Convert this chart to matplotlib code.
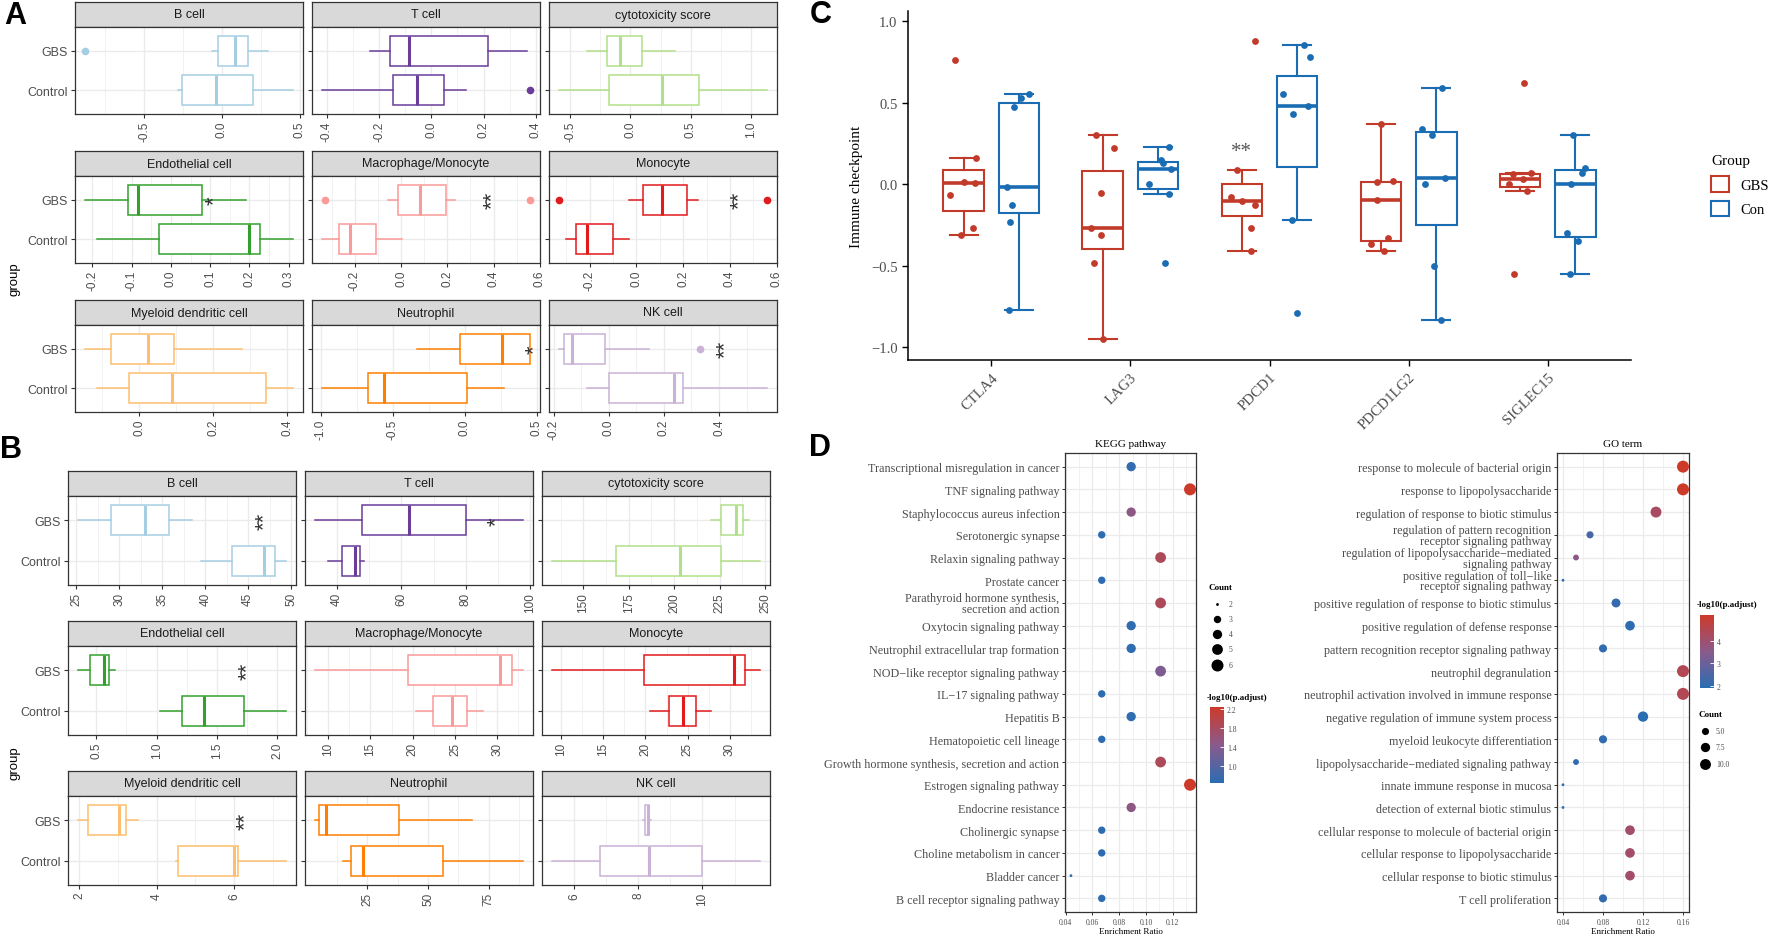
import numpy as np
import matplotlib
matplotlib.use("Agg")
import matplotlib.pyplot as plt
from matplotlib import cbook
from matplotlib.colors import LinearSegmentedColormap, Normalize
from matplotlib.cm import ScalarMappable
from matplotlib.patches import Patch

SANS = ["Liberation Sans", "DejaVu Sans"]
SERIF = ["Liberation Serif", "DejaVu Serif"]
plt.rcParams["font.family"] = SANS

# ---------------- panel A / B data ----------------
cells = ["B cell", "T cell", "cytotoxicity score", "Endothelial cell", "Macrophage/Monocyte",
         "Monocyte", "Myeloid dendritic cell", "Neutrophil", "NK cell"]
cell_colors = ["#A6CEE3", "#6A3D9A", "#B2DF8A", "#33A02C", "#FB9A99",
               "#E31A1C", "#FDBF6F", "#FF7F00", "#CAB2D6"]
groups = ["Control", "GBS"]

# five-number summaries: lower whisker, Q1, median, Q3, upper whisker
a_gbs = [
    [-0.066, -0.027, 0.082, 0.166, 0.294],
    [-0.236, -0.160, -0.085, 0.216, 0.367],
    [-0.362, -0.197, -0.088, 0.095, 0.370],
    [-0.218, -0.109, -0.085, 0.080, 0.191],
    [-0.055, -0.012, 0.081, 0.196, 0.234],
    [-0.030, 0.030, 0.110, 0.215, 0.265],
    [-0.145, -0.076, 0.025, 0.095, 0.278],
    [-0.334, -0.037, 0.260, 0.450, 0.450],
    [-0.180, -0.163, -0.135, -0.016, 0.146],
]
a_gbs_out = [[-0.878], [], [], [], [-0.33, 0.556], [-0.33, 0.557], [], [], [0.33]]
a_ctrl = [
    [-0.281, -0.254, -0.038, 0.199, 0.454],
    [-0.417, -0.147, -0.055, 0.050, 0.131],
    [-0.590, -0.180, 0.260, 0.570, 1.130],
    [-0.189, -0.031, 0.200, 0.228, 0.310],
    [-0.341, -0.271, -0.222, -0.107, 0.003],
    [-0.300, -0.260, -0.210, -0.100, -0.030],
    [-0.114, -0.027, 0.089, 0.343, 0.414],
    [-0.990, -0.676, -0.562, 0.012, 0.272],
    [-0.078, 0.000, 0.237, 0.269, 0.573],
]
a_ctrl_out = [[], [0.376], [], [], [], [], [], [], []]
a_ticks = [[-0.5, 0, 0.5], [-0.4, -0.2, 0, 0.2, 0.4], [-0.5, 0, 0.5, 1.0],
           [-0.2, -0.1, 0, 0.1, 0.2, 0.3], [-0.2, 0, 0.2, 0.4, 0.6], [-0.2, 0, 0.2, 0.4, 0.6],
           [0, 0.2, 0.4], [-1.0, -0.5, 0, 0.5], [-0.2, 0, 0.2, 0.4]]
a_sig = ["", "", "", "*", "**", "**", "", "*", "**"]
a_sig_x = [None, None, None, 0.11, 0.396, 0.44, None, 0.483, 0.424]

b_gbs = [
    [25.24, 29.03, 33.03, 35.78, 38.42],
    [33.4, 47.7, 62.3, 80.0, 97.6],
    [220, 226, 234, 238, 241],
    [0.352, 0.452, 0.5625, 0.608, 0.656],
    [8.5, 19.5, 30.3, 31.7, 33.0],
    [9.0, 19.8, 30.5, 31.8, 33.5],
    [1.98, 2.23, 3.02, 3.22, 3.51],
    [3.5, 5.0, 8.0, 38.0, 68.0],
    [8.15, 8.2, 8.3, 8.35, 8.4],
]
b_gbs_out = [[], [], [], [], [], [], [], [], []]
b_ctrl = [
    [39.5, 43.17, 46.8, 48.08, 49.36],
    [37.3, 41.6, 45.8, 47.2, 48.5],
    [133, 168, 203, 226, 247],
    [1.031, 1.21, 1.395, 1.727, 2.068],
    [20.4, 22.4, 24.6, 26.45, 28.35],
    [20.5, 22.8, 24.5, 26.0, 27.8],
    [4.5, 4.55, 6.0, 6.1, 7.33],
    [15.0, 18.0, 23.0, 56.0, 89.0],
    [5.33, 6.8, 8.35, 10.0, 11.78],
]
b_ctrl_out = [[], [], [], [], [], [], [], [], []]
b_ticks = [[25, 30, 35, 40, 45, 50], [40, 60, 80, 100], [150, 175, 200, 225, 250],
           [0.5, 1.0, 1.5, 2.0], [10, 15, 20, 25, 30], [10, 15, 20, 25, 30],
           [2, 4, 6], [25, 50, 75], [6, 8, 10]]
b_sig = ["**", "*", "", "**", "", "", "**", "", ""]
b_sig_x = [46.9, 89.4, None, 1.75, None, None, 6.3, None, None]

# ---------------- panel C data ----------------
genes = ["CTLA4", "LAG3", "PDCD1", "PDCD1LG2", "SIGLEC15"]
group_names = ["GBS", "Con"]
gbs_vals = [
    [0.76, 0.16, 0.01, 0.005, -0.065, -0.27, -0.31],
    [0.30, 0.22, -0.055, -0.27, -0.31, -0.485, -0.95],
    [0.88, 0.085, -0.08, -0.105, -0.125, -0.27, -0.41],
    [0.37, 0.02, 0.01, -0.10, -0.33, -0.37, -0.41],
    [0.62, 0.07, 0.06, 0.03, 0.0, -0.04, -0.55],
]
con_vals = [
    [0.55, 0.53, 0.47, -0.02, -0.13, -0.23, -0.77],
    [0.227, 0.145, 0.13, 0.09, 0.003, -0.058, -0.485],
    [0.85, 0.78, 0.55, 0.48, 0.43, -0.22, -0.79],
    [0.59, 0.34, 0.30, 0.04, 0.0, -0.5, -0.83],
    [0.30, 0.10, 0.07, 0.0, -0.30, -0.35, -0.55],
]
c_sig = ["", "", "**", "", ""]
c_sig_y = [None, None, 0.20, None, None]
# horizontal jitter of the dots (category units)
gbs_jit = [[-0.06, 0.09, 0.0, 0.08, -0.10, 0.065, -0.02],
           [-0.045, 0.08, -0.01, -0.085, -0.01, -0.065, 0.0],
           [0.095, -0.035, -0.08, 0.0, 0.095, 0.07, 0.07],
           [0.0, 0.09, -0.03, -0.03, 0.05, -0.07, 0.02],
           [0.03, 0.08, -0.05, 0.02, -0.08, 0.05, -0.04]]
con_jit = [[0.07, 0.015, -0.035, -0.09, -0.05, -0.065, -0.07],
           [0.08, 0.02, 0.035, 0.095, -0.07, 0.08, 0.045],
           [0.05, 0.09, -0.10, 0.08, -0.03, -0.035, 0.0],
           [0.04, -0.10, -0.03, 0.06, -0.08, -0.02, 0.03],
           [-0.02, 0.07, 0.05, -0.03, -0.06, 0.02, -0.04]]

# ---------------- panel D data ----------------
kegg_terms = ["Transcriptional misregulation in cancer", "TNF signaling pathway",
              "Staphylococcus aureus infection", "Serotonergic synapse", "Relaxin signaling pathway",
              "Prostate cancer", "Parathyroid hormone synthesis,\nsecretion and action",
              "Oxytocin signaling pathway", "Neutrophil extracellular trap formation",
              "NOD\u2212like receptor signaling pathway", "IL\u221217 signaling pathway", "Hepatitis B",
              "Hematopoietic cell lineage", "Growth hormone synthesis, secretion and action",
              "Estrogen signaling pathway", "Endocrine resistance", "Cholinergic synapse",
              "Choline metabolism in cancer", "Bladder cancer", "B cell receptor signaling pathway"]
kegg_ratio = [0.089, 0.133, 0.089, 0.067, 0.111, 0.067, 0.111, 0.089, 0.089, 0.111,
              0.067, 0.089, 0.067, 0.111, 0.133, 0.089, 0.067, 0.067, 0.044, 0.067]
kegg_count = [4, 6, 4, 3, 5, 3, 5, 4, 4, 5, 3, 4, 3, 5, 6, 4, 3, 3, 2, 3]
kegg_logp = [0.72, 2.24, 1.50, 0.68, 1.85, 0.68, 1.85, 0.70, 0.70, 1.35,
             0.68, 0.70, 0.68, 1.85, 2.24, 1.50, 0.68, 0.68, 0.65, 0.68]
kegg_xticks = [0.04, 0.06, 0.08, 0.10, 0.12]
kegg_size_breaks = [2, 3, 4, 5, 6]
kegg_color_breaks = [1.0, 1.4, 1.8, 2.2]

go_terms = ["response to molecule of bacterial origin", "response to lipopolysaccharide",
            "regulation of response to biotic stimulus",
            "regulation of pattern recognition\nreceptor signaling pathway",
            "regulation of lipopolysaccharide\u2212mediated\nsignaling pathway",
            "positive regulation of toll\u2212like\nreceptor signaling pathway",
            "positive regulation of response to biotic stimulus",
            "positive regulation of defense response",
            "pattern recognition receptor signaling pathway", "neutrophil degranulation",
            "neutrophil activation involved in immune response",
            "negative regulation of immune system process", "myeloid leukocyte differentiation",
            "lipopolysaccharide\u2212mediated signaling pathway", "innate immune response in mucosa",
            "detection of external biotic stimulus",
            "cellular response to molecule of bacterial origin",
            "cellular response to lipopolysaccharide", "cellular response to biotic stimulus",
            "T cell proliferation"]
go_ratio = [0.160, 0.160, 0.133, 0.067, 0.053, 0.040, 0.093, 0.107, 0.080, 0.160,
            0.160, 0.120, 0.080, 0.053, 0.040, 0.040, 0.107, 0.107, 0.107, 0.080]
go_count = [12, 12, 10, 5, 4, 3, 7, 8, 6, 12, 12, 9, 6, 4, 3, 3, 8, 8, 8, 6]
go_logp = [5.13, 5.13, 4.20, 2.40, 3.60, 1.95, 2.10, 1.98, 2.05, 4.45,
           4.45, 1.91, 2.05, 2.00, 1.95, 1.95, 4.10, 4.10, 4.10, 2.05]
go_xticks = [0.04, 0.08, 0.12, 0.16]
go_size_breaks = [5.0, 7.5, 10.0]
go_color_breaks = [2, 3, 4]

# ---------------- styles ----------------
W, H = 1772, 937
GRID = "#EBEBEB"
BORDER = "#333333"
TXT = "#4D4D4D"
C_GBS = "#C23B2A"
C_CON = "#1B6DB3"
cmap = LinearSegmentedColormap.from_list("bluered", ["#2A6DB2", "#8A5A8C", "#CD3A2A"])

fig = plt.figure(figsize=(W / 100, H / 100), dpi=100)


def axpx(x0, y0, x1, y1):
    return fig.add_axes([x0 / W, 1 - y1 / H, (x1 - x0) / W, (y1 - y0) / H])


def fmt_ticks(ticks):
    if all(float(t).is_integer() for t in ticks):
        return [f"{int(t)}" for t in ticks]
    return [f"{t:.1f}" for t in ticks]


def minor_breaks(ticks, lo, hi):
    step = ticks[1] - ticks[0]
    ext = [ticks[0] - step] + list(ticks) + [ticks[-1] + step]
    mids = [(a + b) / 2 for a, b in zip(ext[:-1], ext[1:])]
    return [m for m in mids if lo <= m <= hi]


def do_bxp(ax, stats, positions, widths, horizontal, **kw):
    try:
        ax.bxp(stats, positions=positions, widths=widths,
               orientation="horizontal" if horizontal else "vertical", **kw)
    except TypeError:
        ax.bxp(stats, positions=positions, widths=widths, vert=not horizontal, **kw)


def facet(x0, top, w, sh, ph, title, gst, gout, cst, cout, ticks, col, sig, sigx, first_col):
    sax = axpx(x0, top, x0 + w, top + sh)
    sax.set_facecolor("#D9D9D9")
    sax.set_xticks([])
    sax.set_yticks([])
    for s in sax.spines.values():
        s.set_color(BORDER)
        s.set_linewidth(0.9)
    sax.text(0.5, 0.5, title, ha="center", va="center", fontsize=9, color="#1A1A1A",
             transform=sax.transAxes)
    ax = axpx(x0, top + sh, x0 + w, top + sh + ph)
    vals = [gst[0], gst[4], cst[0], cst[4]] + list(gout) + list(cout)
    lo, hi = min(vals), max(vals)
    pad = 0.05 * (hi - lo)
    ax.set_xlim(lo - pad, hi + pad)
    ax.set_ylim(0.4, 2.6)
    for m in minor_breaks(ticks, lo - pad, hi + pad):
        ax.axvline(m, color=GRID, lw=0.5, zorder=0)
    for t in ticks:
        ax.axvline(t, color=GRID, lw=1.0, zorder=0)
    for yv in (1, 2):
        ax.axhline(yv, color=GRID, lw=1.0, zorder=0)
    stats = [dict(whislo=cst[0], q1=cst[1], med=cst[2], q3=cst[3], whishi=cst[4], fliers=list(cout)),
             dict(whislo=gst[0], q1=gst[1], med=gst[2], q3=gst[3], whishi=gst[4], fliers=list(gout))]
    do_bxp(ax, stats, [1, 2], 0.75, True, showcaps=False, patch_artist=True,
           boxprops=dict(facecolor="white", edgecolor=col, linewidth=1.1),
           whiskerprops=dict(color=col, linewidth=1.1),
           medianprops=dict(color=col, linewidth=2.2, solid_capstyle="butt"),
           flierprops=dict(marker="o", markerfacecolor=col, markeredgecolor=col, markersize=4.5),
           manage_ticks=False, zorder=2)
    ax.set_xticks(ticks)
    ax.set_xticklabels(fmt_ticks(ticks), rotation=90, fontsize=8.5, color=TXT)
    ax.set_yticks([1, 2])
    if first_col:
        ax.set_yticklabels(groups, fontsize=9, color=TXT)
    else:
        ax.set_yticklabels([])
        ax.tick_params(axis="y", length=0)
    ax.tick_params(length=3, width=0.8, color=BORDER, pad=2)
    for s in ax.spines.values():
        s.set_color(BORDER)
        s.set_linewidth(0.9)
    if sig:
        ax.text(sigx, 2, sig, rotation=90, ha="center", va="center", fontsize=16, color="#333333")


# ---------------- panel A ----------------
a_cols = [75, 312, 549]
a_rows = [3, 152, 301]
for k in range(9):
    r, c = divmod(k, 3)
    facet(a_cols[c], a_rows[r], 228, 25, 87, cells[k], a_gbs[k], a_gbs_out[k], a_ctrl[k],
          a_ctrl_out[k], a_ticks[k], cell_colors[k], a_sig[k], a_sig_x[k], c == 0)

# ---------------- panel B ----------------
b_cols = [68, 305, 542]
b_rows = [472, 622, 772]
for k in range(9):
    r, c = divmod(k, 3)
    facet(b_cols[c], b_rows[r], 228, 25, 89, cells[k], b_gbs[k], b_gbs_out[k], b_ctrl[k],
          b_ctrl_out[k], b_ticks[k], cell_colors[k], b_sig[k], b_sig_x[k], c == 0)

# ---------------- panel C ----------------
axC = axpx(908, 12, 1631, 361)
nC = len(genes)
axC.set_xlim(-0.6, nC - 0.4)
axC.set_ylim(-1.078, 1.061)
for i in range(nC):
    for vals, jit, off, col in ((gbs_vals[i], gbs_jit[i], -0.2, C_GBS),
                                (con_vals[i], con_jit[i], 0.2, C_CON)):
        st = cbook.boxplot_stats(np.array(vals), whis=1.5)
        do_bxp(axC, st, [i + off], 0.29, False, showfliers=False, patch_artist=True,
               capwidths=0.2,
               boxprops=dict(facecolor="white", edgecolor=col, linewidth=1.5),
               whiskerprops=dict(color=col, linewidth=1.5),
               capprops=dict(color=col, linewidth=1.5),
               medianprops=dict(color=col, linewidth=2.6, solid_capstyle="butt"),
               manage_ticks=False, zorder=2)
        axC.scatter(i + off + np.array(jit), vals, s=24, color=col, linewidths=0, zorder=3)
    if c_sig[i]:
        axC.text(i - 0.2, c_sig_y[i], c_sig[i], ha="center", va="center", fontsize=15,
                 color="#555555", family=SERIF)
axC.spines["top"].set_visible(False)
axC.spines["right"].set_visible(False)
for s in ("left", "bottom"):
    axC.spines[s].set_linewidth(1.1)
    axC.spines[s].set_color("black")
yt = [-1.0, -0.5, 0.0, 0.5, 1.0]
axC.set_yticks(yt)
axC.set_yticklabels([f"{v:.1f}".replace("-", "\u2212") for v in yt], fontsize=10.5,
                    color=TXT, family=SERIF)
axC.set_xticks(range(nC))
axC.set_xticklabels(genes, rotation=45, ha="right", rotation_mode="anchor", fontsize=10.5,
                    color=TXT, family=SERIF)
axC.tick_params(length=4, width=1.0, color="black")
axC.set_ylabel("Immune checkpoint", fontsize=11, family=SERIF, labelpad=6)
fig.legend(handles=[Patch(facecolor="white", edgecolor=C_GBS, linewidth=1.5),
                    Patch(facecolor="white", edgecolor=C_CON, linewidth=1.5)],
           labels=group_names, loc="upper left", bbox_to_anchor=(1698 / W, 1 - 142 / H),
           frameon=False, title="Group", prop={"family": SERIF, "size": 10.5},
           title_fontproperties={"family": SERIF, "size": 11}, handlelength=1.2,
           handleheight=1.3, alignment="left", labelspacing=0.6)


# ---------------- panel D ----------------
def size_px(c, cmin, cmax):
    return 2.8 + 9.2 * np.sqrt((np.asarray(c, float) - cmin) / (cmax - cmin))


def dotplot(x0, x1, terms, ratio, count, logp, ticks, title, norm, cmin, cmax):
    ax = axpx(x0, 454, x1, 913)
    n = len(terms)
    y = np.arange(n, 0, -1)
    lo, hi = min(ratio), max(ratio)
    pad = 0.05 * (hi - lo)
    ax.set_xlim(lo - pad, hi + pad)
    ax.set_ylim(0.4, n + 0.6)
    for m in minor_breaks(ticks, lo - pad, hi + pad):
        ax.axvline(m, color=GRID, lw=0.5, zorder=0)
    for t in ticks:
        ax.axvline(t, color=GRID, lw=0.9, zorder=0)
    for yy in y:
        ax.axhline(yy, color=GRID, lw=0.9, zorder=0)
    d = size_px(count, cmin, cmax)
    ax.scatter(ratio, y, s=(0.72 * d) ** 2, c=logp, cmap=cmap, norm=norm, linewidths=0, zorder=3)
    ax.set_yticks(y)
    ax.set_yticklabels(terms, fontsize=8.7, color=TXT, family=SERIF, linespacing=0.85)
    ax.set_xticks(ticks)
    ax.set_xticklabels([f"{t:.2f}" for t in ticks], fontsize=5.5, color=TXT, family=SERIF)
    ax.tick_params(length=2.5, width=0.7, color=BORDER, pad=1.5)
    for s in ax.spines.values():
        s.set_color(BORDER)
        s.set_linewidth(0.9)
    ax.set_title(title, fontsize=8, family=SERIF, pad=5)
    ax.set_xlabel("Enrichment Ratio", fontsize=6.5, family=SERIF, labelpad=1)
    return ax


kegg_norm = Normalize(min(kegg_logp), max(kegg_logp))
go_norm = Normalize(min(go_logp), max(go_logp))
dotplot(1065, 1196, kegg_terms, kegg_ratio, kegg_count, kegg_logp, kegg_xticks, "KEGG pathway",
        kegg_norm, min(kegg_count), max(kegg_count))
dotplot(1557, 1689, go_terms, go_ratio, go_count, go_logp, go_xticks, "GO term",
        go_norm, min(go_count), max(go_count))


def colorbar(x0, y0, x1, y1, norm, breaks, fmt):
    cax = axpx(x0, y0, x1, y1)
    cb = fig.colorbar(ScalarMappable(norm=norm, cmap=cmap), cax=cax)
    cb.outline.set_visible(False)
    cb.set_ticks(breaks)
    cax.set_yticklabels([fmt.format(b) for b in breaks], fontsize=5.5, color=TXT, family=SERIF)
    cax.tick_params(length=3, width=0.6, color="white", direction="in", pad=2)


colorbar(1210, 708, 1224, 784, kegg_norm, kegg_color_breaks, "{:.1f}")
colorbar(1700, 616, 1714, 689, go_norm, go_color_breaks, "{:d}")

# overlay for labels and size legends
ov = fig.add_axes([0, 0, 1, 1])
ov.set_xlim(0, W)
ov.set_ylim(H, 0)
ov.axis("off")

for lab, x, yy in (("A", 15, 16), ("B", 11, 450), ("C", 821, 15), ("D", 820, 448)):
    ov.text(x, yy, lab, fontsize=22, weight="bold", ha="center", va="center", family=SANS)
ov.text(15, 279, "group", rotation=90, fontsize=9.5, ha="center", va="center")
ov.text(15, 763, "group", rotation=90, fontsize=9.5, ha="center", va="center")

# KEGG legends
ov.text(1209, 588, "Count", fontsize=6.5, weight="bold", family=SERIF, va="center")
for c, yy in zip(kegg_size_breaks, [605, 620, 635, 650, 666]):
    ov.scatter([1217], [yy], s=(0.72 * size_px(c, min(kegg_count), max(kegg_count))) ** 2,
               color="black", linewidths=0)
    ov.text(1229, yy, f"{c}", fontsize=5.5, family=SERIF, va="center", color=TXT)
ov.text(1207, 698, "-log10(p.adjust)", fontsize=6.5, weight="bold", family=SERIF, va="center")

# GO legends
ov.text(1697, 605, "-log10(p.adjust)", fontsize=6.5, weight="bold", family=SERIF, va="center")
ov.text(1699, 715, "Count", fontsize=6.5, weight="bold", family=SERIF, va="center")
for c, yy in zip(go_size_breaks, [732, 748, 765]):
    ov.scatter([1705], [yy], s=(0.72 * size_px(c, min(go_count), max(go_count))) ** 2,
               color="black", linewidths=0)
    ov.text(1716, yy, f"{c:.1f}", fontsize=5.5, family=SERIF, va="center", color=TXT)

fig.savefig("out.png", dpi=100)
